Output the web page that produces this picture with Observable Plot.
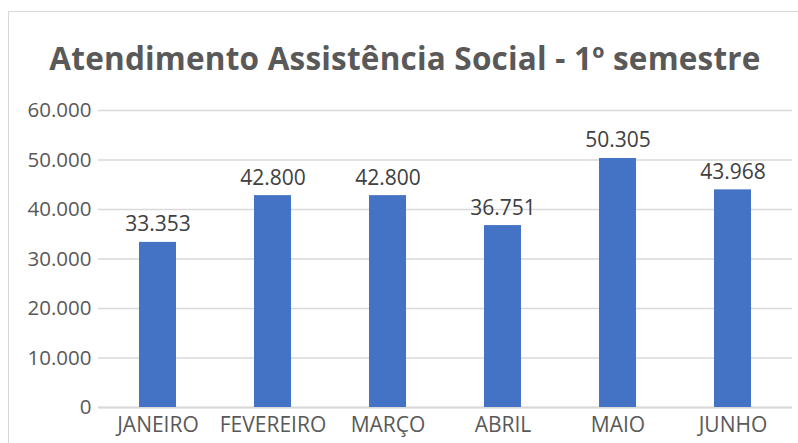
<!DOCTYPE html>
<html>
<head>
<meta charset="utf-8">
<script src="https://cdn.jsdelivr.net/npm/d3@7"></script>
<script src="https://cdn.jsdelivr.net/npm/@observablehq/plot@0.6"></script>
<style>
  html, body { margin: 0; padding: 0; background: #fff; }
  #wrap { position: relative; width: 798px; height: 443px; overflow: hidden; font-family: "Open Sans", sans-serif; }
  #frame { position: absolute; left: 8px; top: 11px; width: 820px; height: 500px; border: 1.5px solid #d9d9d9; box-sizing: border-box; }
  #title { position: relative; height: 100px; line-height: 100px; text-align: center; font-weight: bold; font-size: 31.5px; color: #595959; padding-top: 8px; padding-left: 12px; box-sizing: border-box; letter-spacing: 0.2px; }
  #chart { position: relative; }
</style>
</head>
<body>
<div id="wrap">
  <div id="frame"></div>
  <div id="title">Atendimento Assistência Social - 1º semestre</div>
  <div id="chart"></div>
</div>
<script>
const months = ["JANEIRO", "FEVEREIRO", "MARÇO", "ABRIL", "MAIO", "JUNHO"];
const values = [33353, 42800, 42800, 36751, 50305, 43968];
const yTicks = [0, 10000, 20000, 30000, 40000, 50000, 60000];

const data = months.map((m, i) => ({month: m, value: values[i]}));
const loc = d3.formatLocale({decimal: ",", thousands: ".", grouping: [3], currency: ["", ""]});
const fmt = loc.format(",");

const chart = Plot.plot({
  width: 798,
  height: 343,
  marginLeft: 98,
  marginRight: 6,
  marginTop: 10,
  marginBottom: 36,
  style: {fontFamily: "Open Sans, sans-serif", background: "transparent", overflow: "visible"},
  x: {domain: months, paddingInner: 0.68, paddingOuter: 0.34, label: null, tickSize: 0, tickPadding: 8},
  y: {domain: [0, 60000], ticks: yTicks, label: null, tickSize: 0, tickPadding: 8, tickFormat: fmt},
  marks: [
    Plot.gridY(yTicks, {stroke: "#d9d9d9", strokeOpacity: 1, strokeWidth: 1.5}),
    Plot.ruleY([0], {stroke: "#d9d9d9", strokeWidth: 2}),
    Plot.barY(data, {x: "month", y: "value", fill: "#4472c4"}),
    Plot.text(data, {x: "month", y: "value", text: d => fmt(d.value), dy: -11, lineAnchor: "bottom", fontSize: 21, fill: "#404040"}),
    Plot.axisY({ticks: yTicks, tickFormat: fmt, tickSize: 0, tickPadding: 7, fontSize: 20.5, fill: "#595959", label: null}),
    Plot.axisX({tickSize: 0, tickPadding: 10, fontSize: 21, fill: "#595959", label: null})
  ]
});
document.getElementById("chart").appendChild(chart);
</script>
</body>
</html>
